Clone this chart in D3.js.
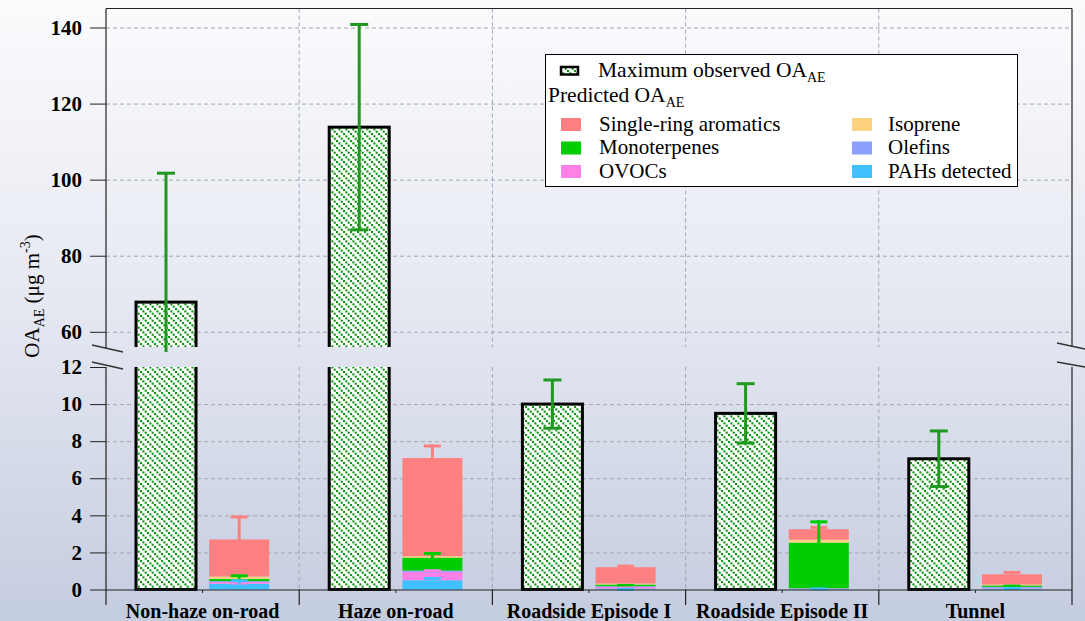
<!DOCTYPE html>
<html>
<head>
<meta charset="utf-8">
<script src="https://cdn.jsdelivr.net/npm/d3@7"></script>
<style>
  html, body { margin: 0; padding: 0; }
  body { width: 1085px; height: 621px; overflow: hidden; }
  svg { display: block; }
  text { font-family: "Liberation Serif", "Times New Roman", serif; }
</style>
</head>
<body>
<svg id="chart" width="1085" height="621"></svg>
<script>
// ---------------- DATA ----------------
const categories = ["Non-haze on-road", "Haze on-road", "Roadside Episode I", "Roadside Episode II", "Tunnel"];
const observed    = [67.8, 113.8, 10.0, 9.5, 7.05];
const observedErr = [33.9, 27.0, 1.3, 1.6, 1.5];

// predicted components (stack order bottom -> top)
const pahs         = [0.31, 0.50, 0.05, 0.03, 0.06];
const ovocs        = [0.09, 0.45, 0.09, 0.02, 0.03];
const olefins      = [0.05, 0.07, 0.04, 0.02, 0.05];
const monoterpenes = [0.12, 0.70, 0.09, 2.46, 0.08];
const isoprene     = [0.13, 0.08, 0.05, 0.16, 0.05];
const singleRing   = [2.00, 5.29, 0.88, 0.56, 0.55];

const pahsErr         = [0.24, 0.18, 0.04, 0.08, 0.08];
const ovocsErr        = [0.03, 0.14, 0.02, 0.00, 0.00];
const olefinsErr      = [0.00, 0.03, 0.00, 0.00, 0.00];
const monoterpenesErr = [0.25, 0.30, 0.03, 1.20, 0.04];
const isopreneErr     = [0.00, 0.00, 0.00, 0.00, 0.00];
const singleRingErr   = [1.29, 0.73, 0.14, 0.18, 0.18];

const upperTicks = [60, 80, 100, 120, 140];
const lowerTicks = [0, 2, 4, 6, 8, 10, 12];
const upperDomain = [56, 145];
const lowerDomain = [0, 12];

const series = [
  { name: "PAHs detected",         values: pahs,         err: pahsErr,         color: "#40c0ff" },
  { name: "OVOCs",                 values: ovocs,        err: ovocsErr,        color: "#ff80e6" },
  { name: "Olefins",               values: olefins,      err: olefinsErr,      color: "#8ca0ff" },
  { name: "Monoterpenes",          values: monoterpenes, err: monoterpenesErr, color: "#00cc00" },
  { name: "Isoprene",              values: isoprene,     err: isopreneErr,     color: "#ffd27f" },
  { name: "Single-ring aromatics", values: singleRing,   err: singleRingErr,   color: "#ff8080" }
];

// ---------------- LAYOUT ----------------
const FONT = "'Liberation Serif', 'Times New Roman', serif";
const svg = d3.select("#chart");
const X0 = 106, X1 = 1072;
const TOP = 8.5, UPPER_BOTTOM = 347, LOWER_TOP = 367, BASE = 589.5, SEP_BOTTOM = 605;

const x = d3.scaleBand().domain(categories).range([X0, X1]).padding(0);
const xi = d3.scaleBand().domain(["obs", "pred"]).range([0, x.bandwidth()]).paddingInner(0.18).paddingOuter(0.41);
const yU = d3.scaleLinear().domain(upperDomain).range([UPPER_BOTTOM, TOP]);
const yL = d3.scaleLinear().domain(lowerDomain).range([BASE, LOWER_TOP]);

const defs = svg.append("defs");
const bg = defs.append("linearGradient").attr("id", "bg").attr("x1", 0).attr("y1", 0).attr("x2", 0).attr("y2", 1);
bg.append("stop").attr("offset", "0%").attr("stop-color", "#fbfbfd");
bg.append("stop").attr("offset", "50%").attr("stop-color", "#e5e8f1");
bg.append("stop").attr("offset", "100%").attr("stop-color", "#c4cce0");

const pat = defs.append("pattern").attr("id", "hatch").attr("patternUnits", "userSpaceOnUse")
  .attr("width", 7).attr("height", 7);
pat.append("rect").attr("width", 7).attr("height", 7).attr("fill", "#ffffff");
[0, 1, 2].forEach(i => {
  pat.append("rect").attr("x", i * 7 / 3).attr("y", i * 7 / 3).attr("width", 2.1).attr("height", 2.1).attr("fill", "#0f940f");
});

defs.append("clipPath").attr("id", "clipU").append("rect").attr("x", 0).attr("y", 0).attr("width", 1085).attr("height", UPPER_BOTTOM);
defs.append("clipPath").attr("id", "clipUe").append("rect").attr("x", 0).attr("y", 0).attr("width", 1085).attr("height", UPPER_BOTTOM + 5);
defs.append("clipPath").attr("id", "clipL").append("rect").attr("x", 0).attr("y", LOWER_TOP).attr("width", 1085).attr("height", 621 - LOWER_TOP);

svg.append("rect").attr("width", 1085).attr("height", 621).attr("fill", "url(#bg)");

// ---------------- GRID ----------------
const gridColor = "#a3a7b0";
function hGrid(scale, ticks) {
  const g = svg.append("g").attr("transform", `translate(${X0},0)`)
    .call(d3.axisLeft(scale).tickValues(ticks).tickSize(-(X1 - X0)).tickFormat(""));
  g.select(".domain").remove();
  g.selectAll("line").attr("stroke", gridColor).attr("stroke-dasharray", "4,3");
}
hGrid(yU, upperTicks);
hGrid(yL, lowerTicks.filter(d => d !== 0 && d !== 12));

const bounds = categories.slice(1).map(c => x(c));
[[TOP, UPPER_BOTTOM], [LOWER_TOP, BASE]].forEach(([a, b]) => {
  svg.append("g").selectAll("line").data(bounds).join("line")
    .attr("x1", d => d).attr("x2", d => d).attr("y1", a).attr("y2", b)
    .attr("stroke", gridColor).attr("stroke-dasharray", "4,3");
});

// ---------------- OBSERVED BARS ----------------
const obsColor = "#1f981f";
const gU = svg.append("g").attr("clip-path", "url(#clipU)");
const gL = svg.append("g").attr("clip-path", "url(#clipL)");
const bw = xi.bandwidth();
categories.forEach((c, i) => {
  const v = observed[i];
  const bx = x(c) + xi("obs");
  if (v > upperDomain[0]) {
    gU.append("rect").attr("x", bx).attr("y", yU(v)).attr("width", bw)
      .attr("height", yU(upperDomain[0]) + 20 - yU(v))
      .attr("fill", "url(#hatch)").attr("stroke", "#000").attr("stroke-width", 3);
  }
  const top = Math.min(v, lowerDomain[1] + 1);
  gL.append("rect").attr("x", bx).attr("y", yL(top)).attr("width", bw)
    .attr("height", yL(0) - yL(top))
    .attr("fill", "url(#hatch)").attr("stroke", "#000").attr("stroke-width", 3);
});

// ---------------- PREDICTED STACKS ----------------
const stackData = categories.map((c, i) => {
  const o = { cat: c };
  series.forEach(s => { o[s.name] = s.values[i]; });
  return o;
});
const stacked = d3.stack().keys(series.map(s => s.name))(stackData);
const pw = xi.bandwidth();
stacked.forEach((layer, li) => {
  gL.append("g").selectAll("rect").data(layer).join("rect")
    .attr("x", d => x(d.data.cat) + xi("pred"))
    .attr("y", d => yL(d[1]))
    .attr("width", pw)
    .attr("height", d => yL(d[0]) - yL(d[1]))
    .attr("fill", series[li].color);
});

// component error bars (top first so lower components overlay)
const capW = 17;
for (let li = stacked.length - 1; li >= 0; li--) {
  const layer = stacked[li];
  const s = series[li];
  layer.forEach((d, i) => {
    const e = s.err[i];
    if (!(e > 0)) return;
    const cx = x(d.data.cat) + xi("pred") + pw / 2;
    const yTop = yL(d[1] + e);
    gL.append("line").attr("x1", cx).attr("x2", cx).attr("y1", yTop).attr("y2", yL(d[1]) + 1)
      .attr("stroke", s.color).attr("stroke-width", 3);
    gL.append("line").attr("x1", cx - capW / 2).attr("x2", cx + capW / 2).attr("y1", yTop + 1.5).attr("y2", yTop + 1.5)
      .attr("stroke", s.color).attr("stroke-width", 3);
  });
}

// observed error bars
const gUe = svg.append("g").attr("clip-path", "url(#clipUe)");
const oCap = 18;
categories.forEach((c, i) => {
  const v = observed[i], e = observedErr[i];
  const cx = x(c) + xi("obs") + bw / 2;
  if (v > upperDomain[0]) {
    const lo = v - e;
    gUe.append("line").attr("x1", cx).attr("x2", cx).attr("y1", yU(v + e))
      .attr("y2", lo > upperDomain[0] ? yU(lo) : UPPER_BOTTOM + 10)
      .attr("stroke", obsColor).attr("stroke-width", 3);
    gUe.append("line").attr("x1", cx - oCap / 2).attr("x2", cx + oCap / 2).attr("y1", yU(v + e)).attr("y2", yU(v + e))
      .attr("stroke", obsColor).attr("stroke-width", 3);
    if (lo > upperDomain[0]) {
      gUe.append("line").attr("x1", cx - oCap / 2).attr("x2", cx + oCap / 2).attr("y1", yU(lo)).attr("y2", yU(lo))
        .attr("stroke", obsColor).attr("stroke-width", 3);
    }
  } else {
    [v + e, v - e].forEach(t => {
      gL.append("line").attr("x1", cx - oCap / 2).attr("x2", cx + oCap / 2).attr("y1", yL(t)).attr("y2", yL(t))
        .attr("stroke", obsColor).attr("stroke-width", 3);
    });
    gL.append("line").attr("x1", cx).attr("x2", cx).attr("y1", yL(v + e)).attr("y2", yL(v - e))
      .attr("stroke", obsColor).attr("stroke-width", 3);
  }
});

// ---------------- AXES ----------------
const axisColor = "#222";
function yAxis(scale, ticks) {
  const g = svg.append("g").attr("transform", `translate(${X0},0)`)
    .call(d3.axisLeft(scale).tickValues(ticks).tickSize(16).tickPadding(8));
  g.select(".domain").remove();
  g.selectAll(".tick line").attr("stroke", axisColor);
  g.selectAll(".tick text").attr("font-family", FONT)
    .attr("font-size", 21).attr("font-weight", "bold").attr("fill", "#000");
}
yAxis(yU, upperTicks);
yAxis(yL, lowerTicks);

// frame lines
const frame = svg.append("g").attr("stroke", axisColor).attr("stroke-width", 1.2).attr("fill", "none");
frame.append("line").attr("x1", X0).attr("x2", X1).attr("y1", TOP).attr("y2", TOP);
frame.append("line").attr("x1", X0).attr("x2", X0).attr("y1", TOP).attr("y2", UPPER_BOTTOM + 1);
frame.append("line").attr("x1", X0).attr("x2", X0).attr("y1", LOWER_TOP).attr("y2", SEP_BOTTOM);
frame.append("line").attr("x1", X1).attr("x2", X1).attr("y1", TOP).attr("y2", UPPER_BOTTOM);
frame.append("line").attr("x1", X1).attr("x2", X1).attr("y1", LOWER_TOP).attr("y2", SEP_BOTTOM);
frame.append("line").attr("x1", X0).attr("x2", X1).attr("y1", BASE + 0.5).attr("y2", BASE + 0.5);

// x axis: separators and labels
const xg = svg.append("g").attr("transform", `translate(0,${BASE + 0.5})`)
  .call(d3.axisBottom(x).tickSize(3).tickPadding(11));
xg.select(".domain").remove();
xg.selectAll(".tick line").attr("stroke", axisColor);
xg.selectAll(".tick text").attr("font-family", FONT)
  .attr("font-size", 20).attr("font-weight", "bold").attr("fill", "#000");
frame.selectAll(".sep").data(bounds).join("line").attr("class", "sep")
  .attr("x1", d => d).attr("x2", d => d).attr("y1", BASE).attr("y2", SEP_BOTTOM);

// break marks
const brk = svg.append("g").attr("stroke", "#333").attr("stroke-width", 1.3);
[[92, 345, 123, 352], [92, 362, 123, 369], [1057, 343, 1085, 349], [1057, 362, 1085, 367]].forEach(([a, b, c, d]) => {
  brk.append("line").attr("x1", a).attr("y1", b).attr("x2", c).attr("y2", d);
});

// y title
const yt = svg.append("text").attr("transform", "translate(39,296) rotate(-90)")
  .attr("text-anchor", "middle").attr("font-size", 21).attr("fill", "#000").attr("font-family", FONT);
yt.append("tspan").text("OA");
yt.append("tspan").attr("font-size", 14).attr("dy", 5).text("AE");
yt.append("tspan").attr("dy", -5).text(" (μg m");
yt.append("tspan").attr("font-size", 14).attr("dy", -9).text("-3");
yt.append("tspan").attr("dy", 9).text(")");

// ---------------- LEGEND ----------------
const lg = svg.append("g").attr("font-family", FONT);
lg.append("rect").attr("x", 545.5).attr("y", 54.5).attr("width", 472).attr("height", 132)
  .attr("fill", "#ffffff").attr("stroke", "#000").attr("stroke-width", 1);
lg.append("rect").attr("x", 561).attr("y", 67).attr("width", 17).attr("height", 7.5)
  .attr("fill", "url(#hatch)").attr("stroke", "#000").attr("stroke-width", 2.5);
const t1 = lg.append("text").attr("x", 598).attr("y", 77).attr("font-size", 21.5).attr("fill", "#000");
t1.append("tspan").text("Maximum observed OA");
t1.append("tspan").attr("font-size", 14).attr("dy", 5).text("AE");
const t2 = lg.append("text").attr("x", 548).attr("y", 102).attr("font-size", 21.5).attr("fill", "#000");
t2.append("tspan").text("Predicted OA");
t2.append("tspan").attr("font-size", 14).attr("dy", 5).text("AE");

const legendOrder = ["Single-ring aromatics", "Monoterpenes", "OVOCs", "Isoprene", "Olefins", "PAHs detected"];
legendOrder.forEach((name, k) => {
  const s = series.find(d => d.name === name);
  const col = Math.floor(k / 3), row = k % 3;
  const sx = col === 0 ? 561 : 852;
  const tx = col === 0 ? 599 : 888;
  const by = 130.5 + row * 23.5;
  lg.append("rect").attr("x", sx).attr("y", by - 12.5).attr("width", 20).attr("height", 13).attr("fill", s.color);
  lg.append("text").attr("x", tx).attr("y", by).attr("font-size", 21).attr("fill", "#000").text(name);
});
</script>
</body>
</html>
